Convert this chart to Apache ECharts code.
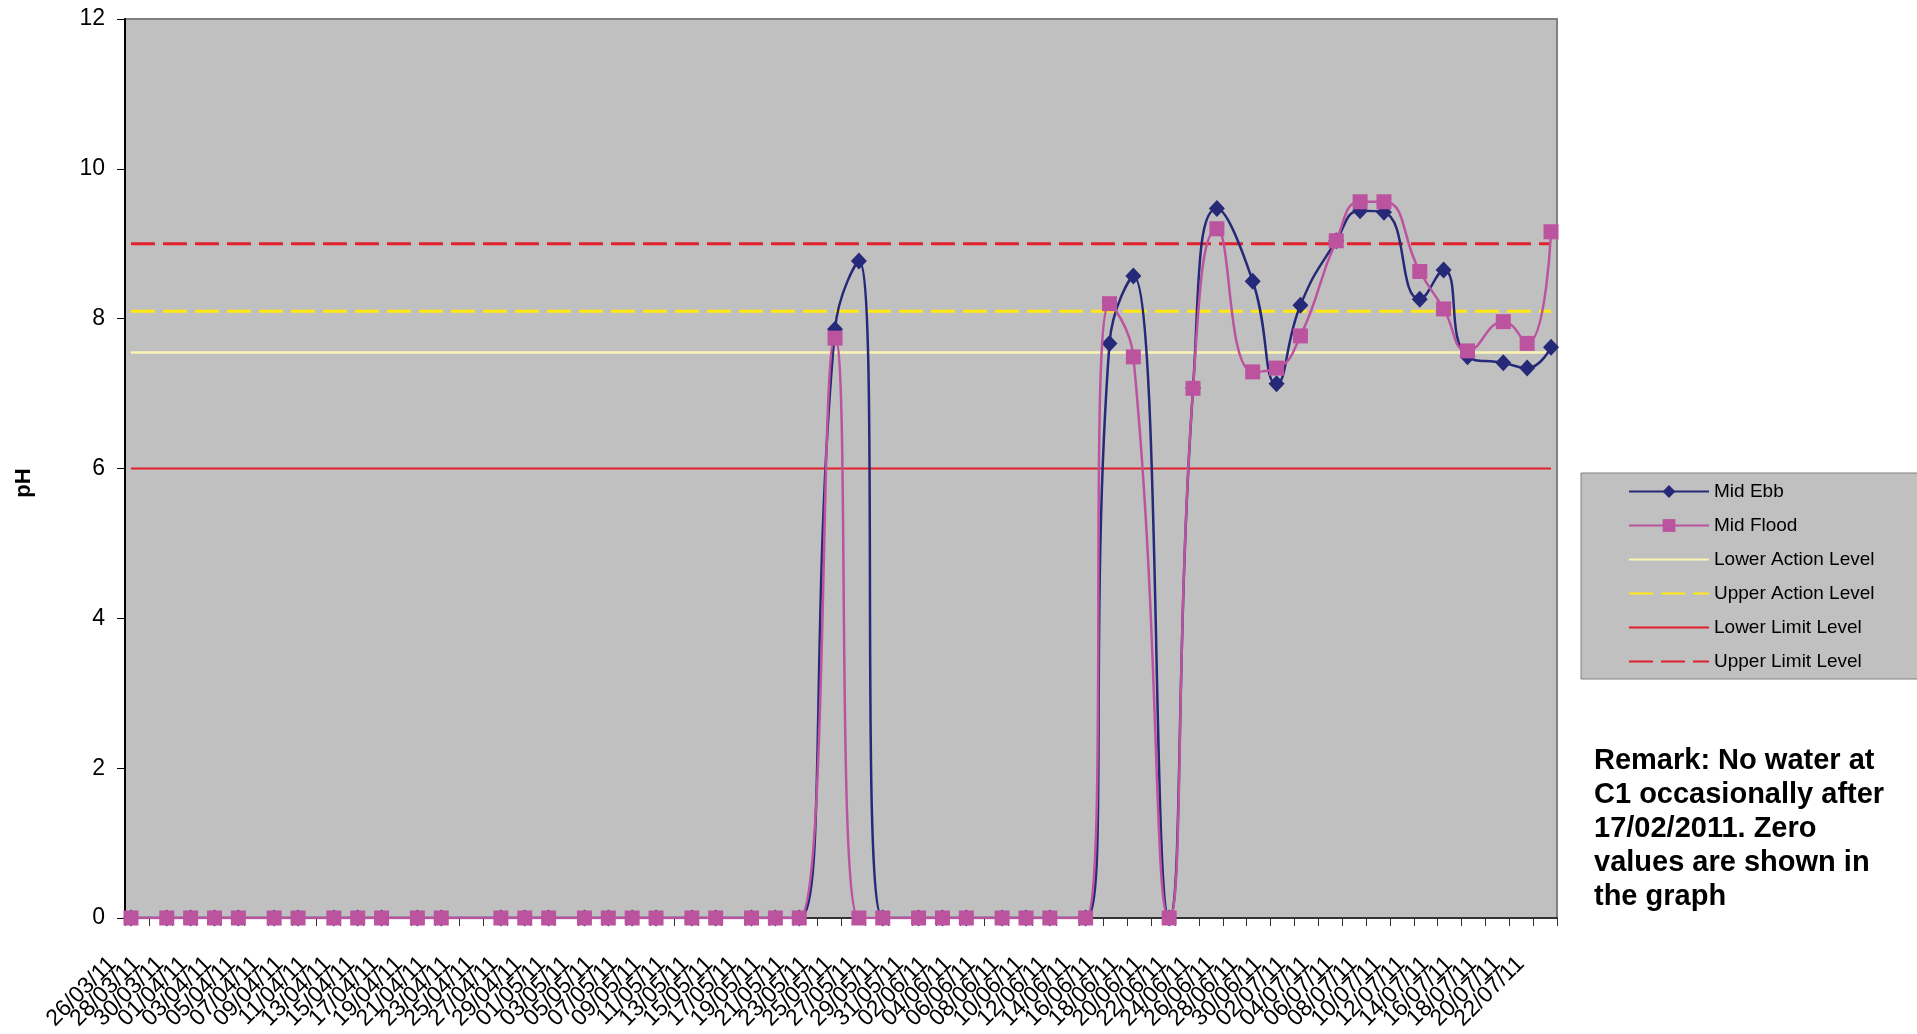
<!DOCTYPE html>
<html>
<head>
<meta charset="utf-8">
<title>pH - C1</title>
<script src="https://cdn.jsdelivr.net/npm/echarts@6/dist/echarts.min.js"></script>
<style>
  html, body { margin: 0; padding: 0; background: #fff; }
  #chart { width: 1917px; height: 1034px; }
</style>
</head>
<body>
<div id="chart"></div>
<script>
// first and last day shown on the date axis (one category per day)
const startDay = '2011-03-26';
const endDay = '2011-07-23';

// sampling dates
const sampleDates = [
  '26/03/11', '29/03/11', '31/03/11', '02/04/11', '04/04/11', '07/04/11', '09/04/11', '12/04/11',
  '14/04/11', '16/04/11', '19/04/11', '21/04/11', '26/04/11', '28/04/11', '30/04/11', '03/05/11',
  '05/05/11', '07/05/11', '09/05/11', '12/05/11', '14/05/11', '17/05/11', '19/05/11', '21/05/11',
  '24/05/11', '26/05/11', '28/05/11', '31/05/11', '02/06/11', '04/06/11', '07/06/11', '09/06/11',
  '11/06/11', '14/06/11', '16/06/11', '18/06/11', '21/06/11', '23/06/11', '25/06/11', '28/06/11',
  '30/06/11', '02/07/11', '05/07/11', '07/07/11', '09/07/11', '12/07/11', '14/07/11', '16/07/11',
  '19/07/11', '21/07/11', '23/07/11'
];

const midEbb = [
  0, 0, 0, 0, 0, 0, 0, 0,
  0, 0, 0, 0, 0, 0, 0, 0,
  0, 0, 0, 0, 0, 0, 0, 0,
  7.86, 8.77, 0, 0, 0, 0, 0, 0,
  0, 0, 7.67, 8.57, 0, 7.07, 9.47, 8.5,
  7.13, 8.18, 9.04, 9.44, 9.42, 8.26, 8.65, 7.49,
  7.41, 7.34, 7.62
];

const midFlood = [
  0, 0, 0, 0, 0, 0, 0, 0,
  0, 0, 0, 0, 0, 0, 0, 0,
  0, 0, 0, 0, 0, 0, 0, 0,
  7.74, 0, 0, 0, 0, 0, 0, 0,
  0, 0, 8.2, 7.49, 0, 7.07, 9.2, 7.29,
  7.34, 7.77, 9.04, 9.56, 9.56, 8.63, 8.13, 7.57,
  7.96, 7.67, 9.16
];

// action / limit levels
const levelNames = ['Lower Action Level', 'Upper Action Level', 'Lower Limit Level', 'Upper Limit Level'];
const levelValues = [7.55, 8.1, 6, 9];

const yTicks = [0, 2, 4, 6, 8, 10, 12];

const remark = 'Remark: No water at\nC1 occasionally after\n17/02/2011. Zero\nvalues are shown in\nthe graph';

// build one category per day dd/mm/yy
function pad(n) { return (n < 10 ? '0' : '') + n; }
const days = [];
for (let d = new Date(startDay + 'T00:00:00Z'); d <= new Date(endDay + 'T00:00:00Z'); d.setUTCDate(d.getUTCDate() + 1)) {
  days.push(pad(d.getUTCDate()) + '/' + pad(d.getUTCMonth() + 1) + '/' + String(d.getUTCFullYear()).slice(2));
}

function onDays(values) {
  const map = {};
  sampleDates.forEach((s, i) => { map[s] = values[i]; });
  return days.map(d => (d in map ? map[d] : null));
}

const FONT = '"Liberation Sans", Arial, sans-serif';

const levelStyles = [
  { color: '#fbf3b4', width: 2.5, type: 'solid' },
  { color: '#ffe814', width: 3, type: [24, 8] },
  { color: '#e0202a', width: 2, type: 'solid' },
  { color: '#e0202a', width: 3, type: [24, 8] }
];

const levelSeries = levelNames.map((name, i) => ({
  name: name,
  type: 'line',
  z: 1,
  symbol: 'circle',
  showSymbol: false,
  connectNulls: true,
  silent: true,
  lineStyle: levelStyles[i],
  // transparent item colour keeps the legend icon a plain line
  itemStyle: { color: 'rgba(0,0,0,0)' },
  data: onDays(sampleDates.map(() => levelValues[i]))
}));

const option = {
  animation: false,
  backgroundColor: '#ffffff',
  textStyle: { fontFamily: FONT, color: '#000' },
  grid: {
    left: 125,
    right: 360,
    top: 19,
    bottom: 116,
    show: true,
    backgroundColor: '#c0c0c0',
    borderColor: '#808080',
    borderWidth: 2
  },
  legend: {
    orient: 'vertical',
    left: 1581,
    top: 473,
    padding: [9, 80, 8, 47],
    itemWidth: 80,
    itemHeight: 16,
    itemGap: 15,
    backgroundColor: '#c0c0c0',
    borderColor: '#808080',
    borderWidth: 1,
    borderRadius: 0,
    textStyle: { fontSize: 19, color: '#000', fontFamily: FONT },
    data: ['Mid Ebb', 'Mid Flood'].concat(levelNames)
  },
  xAxis: {
    type: 'category',
    data: days,
    boundaryGap: true,
    axisLine: { lineStyle: { color: '#333', width: 2 } },
    axisTick: { show: true, interval: (i) => i % 2 === 0, length: 8, lineStyle: { color: '#333', width: 1 } },
    axisLabel: {
      // every category gets a label element, only every second day has text
      interval: 0,
      formatter: (value, i) => (i % 2 === 0 ? value : ''),
      rotate: 45,
      hideOverlap: false,
      fontSize: 23,
      color: '#000',
      fontFamily: FONT,
      margin: 24,
      padding: [0, 26, 0, 0]
    }
  },
  yAxis: {
    type: 'value',
    min: yTicks[0],
    max: yTicks[yTicks.length - 1],
    interval: 2,
    axisLine: { show: true, lineStyle: { color: '#000', width: 2 } },
    axisTick: { show: true, length: 8, lineStyle: { color: '#000' } },
    axisLabel: { fontSize: 23, color: '#000', margin: 20, fontFamily: FONT },
    splitLine: { show: false }
  },
  graphic: [
    {
      type: 'text',
      x: 24,
      y: 483,
      rotation: Math.PI / 2,
      style: {
        text: 'pH',
        font: 'bold 22px ' + FONT,
        fill: '#000',
        align: 'center',
        verticalAlign: 'middle'
      }
    },
    {
      type: 'text',
      left: 1594,
      top: 744,
      style: {
        text: remark,
        font: 'bold 29px ' + FONT,
        lineHeight: 34,
        fill: '#000'
      }
    }
  ],
  series: [
    {
      name: 'Mid Ebb',
      type: 'line',
      z: 3,
      smooth: 0.5,
      connectNulls: true,
      showAllSymbol: true,
      symbol: 'diamond',
      symbolSize: [16, 17],
      lineStyle: { color: '#262878', width: 2.5 },
      itemStyle: { color: '#262878' },
      data: onDays(midEbb)
    },
    {
      name: 'Mid Flood',
      type: 'line',
      z: 4,
      smooth: 0.5,
      connectNulls: true,
      showAllSymbol: true,
      symbol: 'rect',
      symbolSize: 15,
      lineStyle: { color: '#bc539f', width: 2.5 },
      itemStyle: { color: '#bc539f' },
      data: onDays(midFlood)
    }
  ].concat(levelSeries)
};

const myChart = echarts.init(document.getElementById('chart'));
myChart.setOption(option);
</script>
</body>
</html>
